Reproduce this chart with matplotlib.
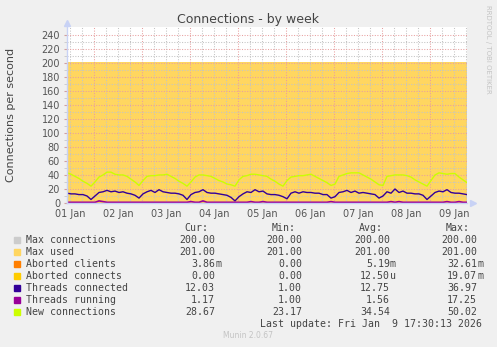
import numpy as np
import matplotlib
matplotlib.use("Agg")
import matplotlib.pyplot as plt
from matplotlib.transforms import blended_transform_factory

W, H = 497, 347

# samples every 2 hours, first one at 01 Jan 10:30 (hours since 01 Jan 00:00)
t_start = 10.5
t_step = 2.0

new_conn = [43, 41, 38, 35, 31, 28, 24, 30, 37, 40,
            44, 44, 41, 40, 40, 38, 34, 30, 25, 32,
            38, 39, 39, 40, 40, 41, 38, 35, 31, 28,
            24, 30, 37, 40, 40, 39, 38, 35, 32, 30,
            27, 26, 24, 33, 38, 39, 41, 41, 40, 39,
            38, 34, 31, 27, 24, 32, 37, 38, 39, 39,
            40, 41, 38, 35, 32, 29, 25, 27, 38, 40,
            42, 43, 43, 43, 40, 37, 34, 30, 26, 25,
            38, 39, 40, 40, 40, 39, 37, 33, 30, 27,
            24, 32, 40, 43, 42, 41, 42, 42, 37, 33, 29]
threads_conn = [14, 13, 13, 12, 12, 10, 5, 10, 15, 16,
                18, 16, 17, 15, 16, 14, 13, 11, 7, 13,
                16, 18, 15, 19, 16, 15, 14, 14, 13, 11,
                5, 12, 15, 16, 19, 15, 14, 14, 13, 12,
                11, 8, 3, 9, 13, 16, 15, 19, 16, 17,
                13, 12, 12, 11, 9, 6, 14, 16, 14, 16,
                15, 15, 14, 14, 12, 12, 7, 9, 15, 16,
                18, 15, 17, 14, 15, 14, 13, 12, 7, 10,
                16, 14, 20, 15, 17, 14, 14, 13, 13, 11,
                5, 10, 15, 17, 16, 19, 15, 14, 14, 13, 12]
threads_run = [1, 1, 1, 1, 1, 1, 1, 1, 3, 2,
               1, 1, 1, 1, 1, 1, 1, 1, 1, 1,
               1, 1, 1, 1, 1, 1, 1, 1, 1, 1,
               1, 2, 1, 1, 3, 1, 1, 1, 1, 1,
               1, 1, 1, 1, 1, 1, 2, 1, 1, 2,
               1, 1, 1, 1, 1, 1, 1, 1, 1, 1,
               1, 1, 1, 1, 1, 1, 2, 1, 1, 1,
               1, 1, 1, 1, 1, 1, 1, 1, 1, 1,
               1, 2, 1, 2, 1, 1, 1, 1, 1, 1,
               1, 1, 1, 1, 1, 2, 1, 1, 2, 1, 1]
aborted_clients = [0.0] * len(new_conn)   # flat at zero all week
aborted_connects = [0.0] * len(new_conn)
max_connections = 200
max_used = 201

day_labels = ["01 Jan", "02 Jan", "03 Jan", "04 Jan", "05 Jan",
              "06 Jan", "07 Jan", "08 Jan", "09 Jan"]

legend_names = ["Max connections", "Max used", "Aborted clients", "Aborted connects",
                "Threads connected", "Threads running", "New connections"]
legend_colors = ["#cccccc", "#ffd660", "#ff7f00", "#ffcc00", "#330099", "#990099", "#ccff00"]
cur_vals = [("200.00", ""), ("201.00", ""), ("3.86", "m"), ("0.00", ""), ("12.03", ""), ("1.17", ""), ("28.67", "")]
min_vals = [("200.00", ""), ("201.00", ""), ("0.00", ""), ("0.00", ""), ("1.00", ""), ("1.00", ""), ("23.17", "")]
avg_vals = [("200.00", ""), ("201.00", ""), ("5.19", "m"), ("12.50", "u"), ("12.75", ""), ("1.56", ""), ("34.54", "")]
max_vals = [("200.00", ""), ("201.00", ""), ("32.61", "m"), ("19.07", "m"), ("36.97", ""), ("17.25", ""), ("50.02", "")]

t = t_start + t_step * np.arange(len(new_conn))

fig = plt.figure(figsize=(W / 100, H / 100), dpi=100, facecolor="#f0f0f0")

def fx(x):
    return x / W

def fy(y):
    return 1 - y / H

ax = fig.add_axes([fx(67), fy(203), 400 / W, 176 / H])
ax.set_facecolor("white")

ax.plot(t, [max_connections] * len(t), color="#cccccc", lw=1, zorder=0.8)
ax.fill_between(t, 0, max_used, color="#ffd660", lw=0, zorder=1)
ax.plot(t, aborted_clients, color="#ff7f00", lw=1, zorder=2)
ax.plot(t, aborted_connects, color="#ffcc00", lw=1, zorder=2)
ax.plot(t, new_conn, color="#ccff00", lw=1, zorder=2)
ax.plot(t, threads_conn, color="#330099", lw=1, zorder=2)
ax.plot(t, threads_run, color="#990099", lw=1.2, zorder=2)

ax.set_xlim(t_start, t[-1])
ax.set_ylim(0, 251)

# grid: red dotted on midnights / every 20, grey dotted on 6h / every 10
ax.set_axisbelow("line")
ax.set_xticks(np.arange(24, t[-1], 24))
ax.set_xticks(np.arange(12, t[-1], 6), minor=True)
ax.set_yticks(np.arange(0, 241, 20))
ax.set_yticks(np.arange(10, 250, 10), minor=True)
ax.grid(which="major", color="#e8a0a0", ls=(0, (1, 1.5)), lw=0.75)
ax.grid(which="minor", color="#c4c4c4", ls=(0, (1, 1.5)), lw=0.75)
ax.set_xticklabels([])
ax.tick_params(axis="x", which="both", length=0)
ax.tick_params(axis="y", which="both", length=2, color="#d0a0a0", labelsize=7,
               labelcolor="#555555", pad=3)
ax.tick_params(axis="y", which="minor", color="#c8c8c8")

trans = blended_transform_factory(ax.transData, ax.transAxes)
for i, lab in enumerate(day_labels):
    ax.text(12 + 24 * i, -0.035, lab, transform=trans, ha="center", va="top",
            fontsize=7, color="#555555", clip_on=False)

for s in ["top", "right"]:
    ax.spines[s].set_visible(False)
for s in ["left", "bottom"]:
    ax.spines[s].set_color("#c8d2f5")
    ax.spines[s].set_linewidth(1)
ax.plot([0], [1.025], marker="^", ms=5, color="#c8d2f5", transform=ax.transAxes, clip_on=False)
ax.plot([1.015], [0], marker=">", ms=5, color="#c8d2f5", transform=ax.transAxes, clip_on=False)

fig.text(fx(248), fy(19), "Connections - by week", ha="center", va="center",
         fontsize=9, color="#444444")
fig.text(fx(11), fy(115), "Connections per second", rotation=90, ha="center",
         va="center", fontsize=8, color="#444444")
fig.text(fx(488), fy(5), "RRDTOOL / TOBI OETIKER", rotation=270, ha="center",
         va="top", fontsize=5, color="#c4c4c4")

# legend table
mono = "DejaVu Sans Mono"
fs = 7.1
tc = "#444444"
cols = [215, 302, 390, 477]
headers = ["Cur:", "Min:", "Avg:", "Max:"]
head_right = [208, 296, 383, 470]
for hx, h in zip(head_right, headers):
    fig.text(fx(hx), fy(228), h, ha="right", va="center", family=mono, fontsize=fs, color=tc)

for r, name in enumerate(legend_names):
    y = 240 + 12 * r
    fig.patches.append(plt.Rectangle((fx(14), fy(y + 3)), 6 / W, 6 / H,
                                     transform=fig.transFigure, color=legend_colors[r],
                                     figure=fig))
    fig.text(fx(26), fy(y), name, ha="left", va="center", family=mono, fontsize=fs, color=tc)
    for cx, vals in zip(cols, [cur_vals, min_vals, avg_vals, max_vals]):
        num, unit = vals[r]
        fig.text(fx(cx), fy(y), num, ha="right", va="center", family=mono, fontsize=fs, color=tc)
        if unit:
            fig.text(fx(cx), fy(y), unit, ha="left", va="center", family=mono, fontsize=fs, color=tc)

fig.text(fx(482), fy(324), "Last update: Fri Jan  9 17:30:13 2026", ha="right", va="center",
         family=mono, fontsize=fs, color=tc)
fig.text(fx(248), fy(336), "Munin 2.0.67", ha="center", va="center", fontsize=5.5, color="#c4c4c4")

fig.savefig("out.png", dpi=100, facecolor=fig.get_facecolor())
